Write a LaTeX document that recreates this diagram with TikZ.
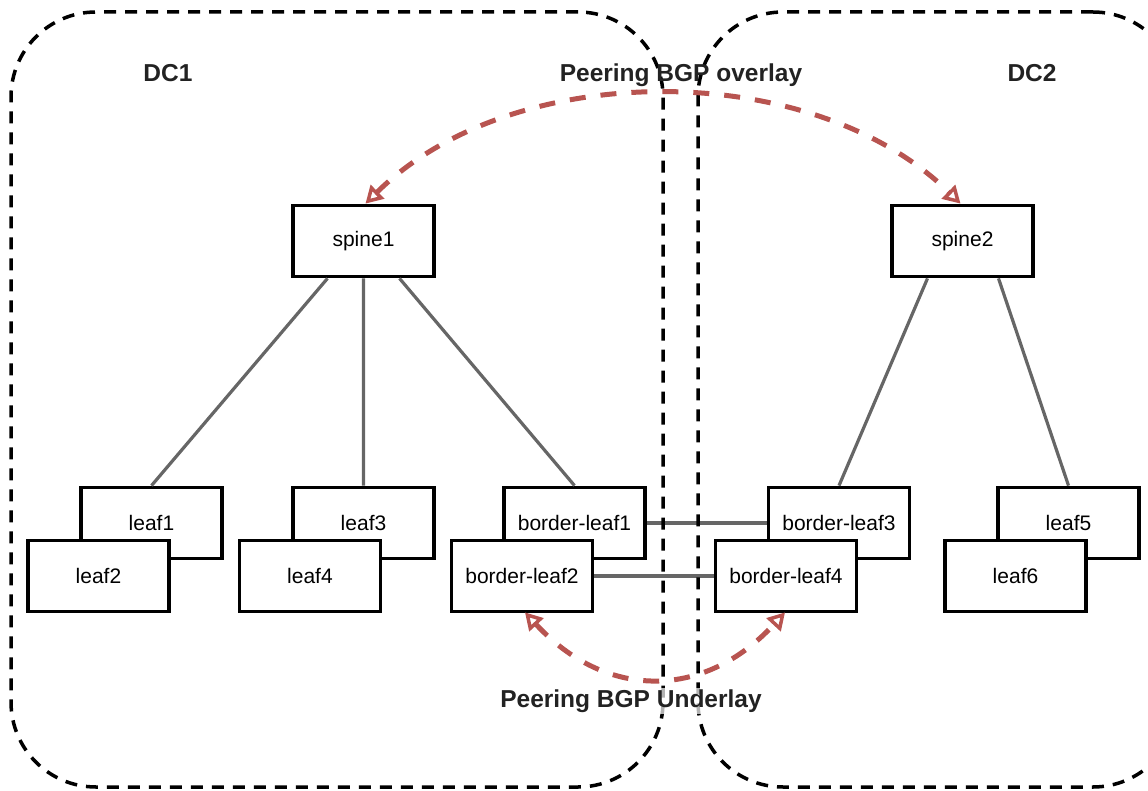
\documentclass[tikz,border=0pt]{standalone}
\usepackage{fontspec}
\setmainfont{Liberation Sans}
\usetikzlibrary{arrows.meta}
\definecolor{peerred}{HTML}{B85450}
\definecolor{linkgray}{HTML}{666666}
\definecolor{labeltext}{HTML}{222222}

\begin{document}
\begin{tikzpicture}[x=1pt,y=-1pt,
    box/.style={draw,line width=3.8pt,fill=white,minimum width=141pt,minimum height=71pt,inner sep=0pt,font=\fontsize{21}{25}\selectfont},
    link/.style={draw=linkgray,line width=3.2pt},
    dc/.style={draw,line width=3.5pt,dash pattern=on 12pt off 9pt,rounded corners=85pt,inner sep=0pt},
    peer/.style={draw=peerred,line width=5pt,dash pattern=on 16pt off 15pt,{Triangle[open,length=17pt,width=19pt,line width=3.5pt]}-{Triangle[open,length=17pt,width=19pt,line width=3.5pt]}},
    title/.style={font=\bfseries\fontsize{24.5}{29}\selectfont,text=labeltext,inner sep=2pt}]
            \clip (0,0) rectangle (1148,791);
            \node (spine1) at (363.5,241) [box] {spine1};
            \node (spine2) at (962.5,241) [box] {spine2};
            \node (leaf1) at (151.5,523) [box] {leaf1};
            \node (leaf2) at (98.5,576) [box] {leaf2};
            \node (leaf3) at (363.5,523) [box] {leaf3};
            \node (leaf4) at (310,576) [box] {leaf4};
            \node (bleaf1) at (574.5,523) [box] {border-leaf1};
            \node (bleaf2) at (522,576) [box] {border-leaf2};
            \node (bleaf3) at (839,523) [box] {border-leaf3};
            \node (bleaf4) at (786,576) [box] {border-leaf4};
            \node (leaf5) at (1068.5,523) [box] {leaf5};
            \node (leaf6) at (1015.5,576) [box] {leaf6};
            \draw[link] ([xshift=-36pt]spine1.south) -- (leaf1.north) (spine1.south) -- (leaf3.north) ([xshift=36pt]spine1.south) -- (bleaf1.north);
            \draw[link] ([xshift=-35pt]spine2.south) -- (bleaf3.north) ([xshift=36pt]spine2.south) -- (leaf5.north);
            \draw[link] (bleaf1.east) -- (bleaf3.west) (bleaf2.east) -- (bleaf4.west);
            \node (dc1) at (337,399.5) [dc,minimum width=652pt,minimum height=775pt] {};
            \node (dc2) at (938,399.5) [dc,minimum width=480pt,minimum height=775pt] {};
            \node (dc1label) at (168,73) [title] {DC1};
            \node (dc2label) at (1032,73) [title] {DC2};
            \draw[peer] ([xshift=2pt]spine1.north) .. controls (513,58) and (812,58) .. ([xshift=-2pt]spine2.north);
            \draw[peer] ([shift={(3pt,1pt)}]bleaf2.south) .. controls (606,700) and (704,700) .. ([shift={(-1pt,1pt)}]bleaf4.south);
            \node (overlay) at (681,75) [title] {Peering BGP overlay};
            \node (underlay) at (631,701) [title,fill=white,fill opacity=0.7,text opacity=1] {Peering BGP Underlay};
        \end{tikzpicture}
\end{document}
